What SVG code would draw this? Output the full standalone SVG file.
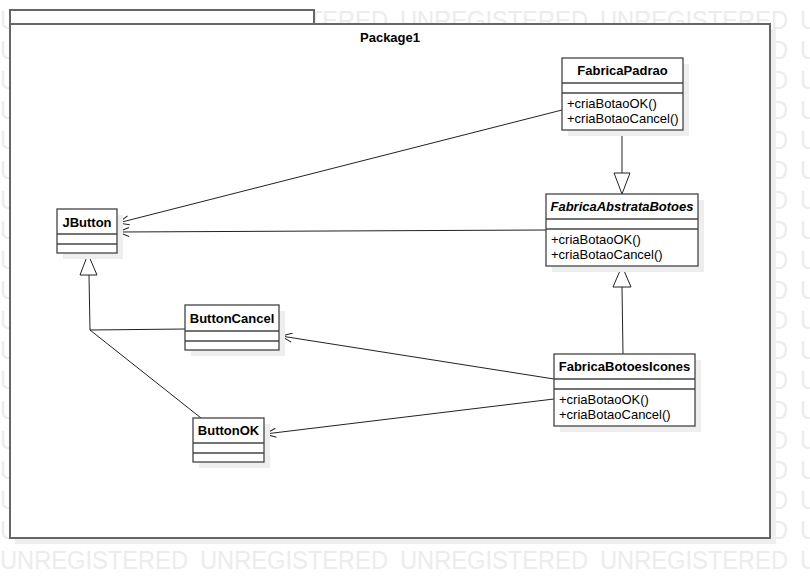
<svg xmlns="http://www.w3.org/2000/svg" xmlns:xlink="http://www.w3.org/1999/xlink" width="810" height="578" viewBox="0 0 810 578">
<style>
.wm{font-family:"Liberation Sans",Arial,sans-serif;font-size:25px;fill:#ececec}
.box{fill:#fff;stroke:#444;stroke-width:1.3}
.shadow{fill:#eeeeee}
.sep{stroke:#444;stroke-width:1.3}
.name{font-family:"Liberation Sans",Arial,sans-serif;font-size:13px;font-weight:bold;fill:#000;text-anchor:middle}
.op{font-family:"Liberation Sans",Arial,sans-serif;font-size:13px;fill:#000}
.edge{fill:none;stroke:#222;stroke-width:1}
.tri{fill:#fff;stroke:#222;stroke-width:1}
.pkg{fill:#fff;stroke:#666;stroke-width:2}
</style>
<defs>
<marker id="open" viewBox="-12 -6 14 12" refX="0" refY="0" markerWidth="14" markerHeight="12" markerUnits="userSpaceOnUse" orient="auto">
<path d="M-11,-4.5 L0,0 L-11,4.5" fill="none" stroke="#222" stroke-width="1"/>
</marker>
<text id="wmrow" class="wm"><tspan x="0" textLength="188" lengthAdjust="spacingAndGlyphs">UNREGISTERED</tspan><tspan x="200" textLength="188" lengthAdjust="spacingAndGlyphs">UNREGISTERED</tspan><tspan x="400" textLength="188" lengthAdjust="spacingAndGlyphs">UNREGISTERED</tspan><tspan x="600" textLength="188" lengthAdjust="spacingAndGlyphs">UNREGISTERED</tspan><tspan x="800" textLength="188" lengthAdjust="spacingAndGlyphs">UNREGISTERED</tspan></text>
</defs>
<rect width="810" height="578" fill="#fff"/>
<g id="watermark">
<use xlink:href="#wmrow" y="29"/><use xlink:href="#wmrow" y="59"/><use xlink:href="#wmrow" y="89"/><use xlink:href="#wmrow" y="119"/><use xlink:href="#wmrow" y="149"/><use xlink:href="#wmrow" y="179"/><use xlink:href="#wmrow" y="209"/><use xlink:href="#wmrow" y="239"/><use xlink:href="#wmrow" y="269"/><use xlink:href="#wmrow" y="299"/><use xlink:href="#wmrow" y="329"/><use xlink:href="#wmrow" y="359"/><use xlink:href="#wmrow" y="389"/><use xlink:href="#wmrow" y="419"/><use xlink:href="#wmrow" y="449"/><use xlink:href="#wmrow" y="479"/><use xlink:href="#wmrow" y="509"/><use xlink:href="#wmrow" y="539"/><use xlink:href="#wmrow" y="569"/>
</g>
<g id="Package1">
<rect x="15" y="29" width="761" height="515" class="shadow"/>
<rect x="10" y="10" width="304" height="14" class="pkg"/>
<rect x="10" y="24" width="760" height="514" class="pkg"/>
<text x="390" y="42" class="name">Package1</text>
</g>
<g id="connectors">
<line x1="562" y1="110" x2="118" y2="223" class="edge" marker-end="url(#open)"/>
<line x1="546" y1="230" x2="118" y2="232" class="edge" marker-end="url(#open)"/>
<line x1="554" y1="379" x2="281" y2="336" class="edge" marker-end="url(#open)"/>
<line x1="554" y1="399" x2="265" y2="434" class="edge" marker-end="url(#open)"/>
<line x1="622" y1="130" x2="622" y2="173" class="edge"/>
<polygon points="622,194 614,173 630,173" class="tri"/>
<line x1="623" y1="354" x2="622" y2="287" class="edge"/>
<polygon points="622,266 613,287 631,287" class="tri"/>
<polyline points="186,329 90,330 89,275" class="edge"/>
<line x1="201" y1="418" x2="90" y2="330" class="edge"/>
<polygon points="88,254 80,275 97,275" class="tri"/>
</g>
<g id="FabricaPadrao">
<rect x="568" y="64" width="121" height="72" class="shadow"/>
<rect x="562" y="58" width="121" height="72" class="box"/>
<line x1="562" y1="83" x2="683" y2="83" class="sep"/>
<line x1="562" y1="93" x2="683" y2="93" class="sep"/>
<text x="622.5" y="75" class="name">FabricaPadrao</text>
<text x="567" y="108" class="op">+criaBotaoOK()</text>
<text x="567" y="123" class="op">+criaBotaoCancel()</text>
</g>
<g id="FabricaAbstrataBotoes">
<rect x="552" y="200" width="152" height="72" class="shadow"/>
<rect x="546" y="194" width="152" height="72" class="box"/>
<line x1="546" y1="219" x2="698" y2="219" class="sep"/>
<line x1="546" y1="229" x2="698" y2="229" class="sep"/>
<text x="622" y="211" class="name" font-style="italic">FabricaAbstrataBotoes</text>
<text x="551" y="244" class="op">+criaBotaoOK()</text>
<text x="551" y="259" class="op">+criaBotaoCancel()</text>
</g>
<g id="JButton">
<rect x="63" y="215" width="60" height="44" class="shadow"/>
<rect x="57" y="209" width="60" height="44" class="box"/>
<line x1="57" y1="234" x2="117" y2="234" class="sep"/>
<line x1="57" y1="244" x2="117" y2="244" class="sep"/>
<text x="87" y="227" class="name">JButton</text>
</g>
<g id="ButtonCancel">
<rect x="191" y="311" width="94" height="45" class="shadow"/>
<rect x="185" y="305" width="94" height="45" class="box"/>
<line x1="185" y1="331" x2="279" y2="331" class="sep"/>
<line x1="185" y1="341" x2="279" y2="341" class="sep"/>
<text x="232" y="323" class="name">ButtonCancel</text>
</g>
<g id="ButtonOK">
<rect x="199" y="424" width="71" height="44" class="shadow"/>
<rect x="193" y="418" width="71" height="44" class="box"/>
<line x1="193" y1="443" x2="264" y2="443" class="sep"/>
<line x1="193" y1="453" x2="264" y2="453" class="sep"/>
<text x="228.5" y="435" class="name">ButtonOK</text>
</g>
<g id="FabricaBotoesIcones">
<rect x="560" y="360" width="141" height="72" class="shadow"/>
<rect x="554" y="354" width="141" height="72" class="box"/>
<line x1="554" y1="379" x2="695" y2="379" class="sep"/>
<line x1="554" y1="389" x2="695" y2="389" class="sep"/>
<text x="624.5" y="371" class="name">FabricaBotoesIcones</text>
<text x="559" y="404" class="op">+criaBotaoOK()</text>
<text x="559" y="419" class="op">+criaBotaoCancel()</text>
</g>
</svg>
